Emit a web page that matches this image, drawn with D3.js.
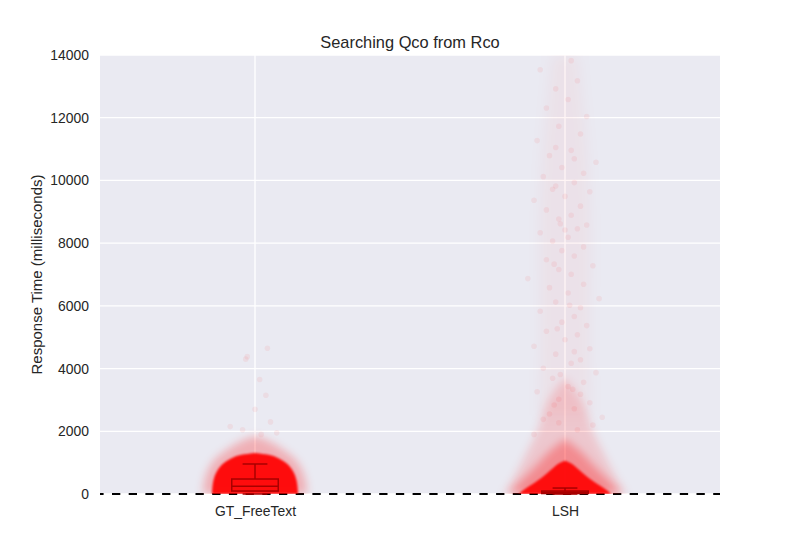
<!DOCTYPE html>
<html lang='en'>
<head>
<meta charset='utf8'>
<title>Searching Qco from Rco</title>
<script src="https://cdn.jsdelivr.net/npm/d3@7"></script>
<style>
    body { margin: 0; background: #fff; }
    text { font-family: "Liberation Sans", Arial, sans-serif; fill: #262626; }
</style>
</head>
<body>
<svg id='chart' width='800' height='550'></svg>
<script>
var categories = ['GT_FreeText', 'LSH'];
var yTicks = [0, 2000, 4000, 6000, 8000, 10000, 12000, 14000];

// dense core of the jittered points: response time (ms) and relative spread
var gtCoreMs = [0, 450, 750, 1000, 1200, 1250, 1310];
var gtCoreSpread = [1, 0.977, 0.884, 0.744, 0.465, 0.349, 0];
var gtHaloMs = [0, 400, 800, 1100, 1300, 1500, 1700, 1850];
var gtHaloSpread = [1.21, 1.19, 1.09, 0.95, 0.77, 0.56, 0.33, 0];

var lshCoreMs = [0, 130, 345, 670, 990, 1060];
var lshCoreSpread = [1.07, 0.98, 0.70, 0.40, 0.16, 0];
var lshInnerMs = [0, 250, 600, 1000, 1400, 1750];
var lshInnerSpread = [1.3, 1.15, 0.9, 0.6, 0.35, 0];
var lshHaloMs = [0, 300, 765, 1400, 2000, 2400, 3100, 3700];
var lshHaloSpread = [1.44, 1.28, 1.09, 0.86, 0.63, 0.56, 0.37, 0];
var lshTailMs = [2500, 5000, 8000, 10500, 12500, 14000];
var lshTailSpread = [0.6, 0.55, 0.6, 0.55, 0.4, 0.3];

// sparse single points: [ms, jitter as share of category step]
var gtOutliers = [[1900, 0.02], [2050, -0.04], [2300, 0.05], [2700, 0.0], [3150, 0.035], [3650, 0.015],
    [4300, -0.03], [4380, -0.025], [4650, 0.04], [1950, 0.07], [2150, -0.08]];
var lshOutliers = [[2550, -0.05], [2720, 0.03], [2910, 0.08], [3020, -0.02], [3180, 0.05], [3260, -0.09],
    [3430, 0.01], [3560, 0.06], [3690, -0.04], [3870, 0.1], [4010, -0.07], [4170, 0.02], [4280, 0.05],
    [4460, -0.03], [4630, 0.08], [4710, -0.1], [4920, 0.0], [5080, 0.04], [5190, -0.06], [5370, 0.07],
    [5480, -0.01], [5660, 0.03], [5830, -0.08], [5940, 0.05], [6120, -0.03], [6230, 0.11], [6410, 0.01],
    [6580, -0.05], [6690, 0.06], [6870, -0.12], [7010, 0.02], [7160, -0.02], [7280, 0.09], [7470, -0.06],
    [7590, 0.03], [7760, -0.01], [7880, 0.06], [8070, -0.04], [8190, 0.01], [8330, -0.08], [8460, 0.04],
    [8580, 0.07], [8620, -0.015], [8770, -0.02], [8890, 0.02], [9060, -0.06], [9180, 0.05], [9370, -0.1],
    [9490, 0.0], [9640, 0.08], [9820, -0.03], [9930, 0.03], [10120, -0.07], [10230, 0.06], [10410, -0.01],
    [10580, 0.1], [10790, -0.05], [10960, 0.02], [11270, -0.09], [11480, 0.05], [11730, -0.02],
    [12040, 0.07], [12310, -0.06], [12580, 0.01], [12920, -0.03], [13180, 0.04], [13530, -0.08],
    [13820, 0.02], [9720, -0.04], [8420, 0.0], [7330, -0.035], [6020, 0.015], [5270, -0.025],
    [4540, 0.03], [3810, -0.015], [3340, 0.025], [2840, -0.035], [10690, 0.03], [11050, -0.03],
    [2200, 0.09], [2380, -0.07], [2050, 0.04], [1900, -0.1], [2450, 0.12], [2270, -0.02]];

// boxplot summary (ms)
var boxQ1 = [95, 15];
var boxMedian = [250, 55];
var boxQ3 = [478, 95];
var whiskerLow = [0, 0];
var whiskerHigh = [957, 190];

var svg = d3.select('#chart');
var margin = {left: 100, right: 80, top: 55, bottom: 56};
var width = 800 - margin.left - margin.right;
var height = 550 - margin.top - margin.bottom;

var defs = svg.append('defs');
var addBlur = function(id, dev) {
    defs.append('filter').attr('id', id)
        .attr('x', '-50%').attr('y', '-50%').attr('width', '200%').attr('height', '200%')
        .append('feGaussianBlur').attr('stdDeviation', dev);
};
addBlur('soft', 1.2);
addBlur('haze', 4);
addBlur('mist', 7);

var g = svg.append('g').attr('transform', 'translate(' + margin.left + ',' + margin.top + ')');

var x = d3.scalePoint().domain(categories).range([0, width]).padding(0.5);
var step = x.step();
var y = d3.scaleLinear().domain([0, 14000]).range([height, 0]);
var spread = d3.scaleLinear().domain([0, 1]).range([0, step * 0.139]);

g.append('rect').attr('width', width).attr('height', height).attr('fill', '#eaeaf2');

g.selectAll('.hgrid').data(yTicks).enter().append('line')
    .attr('x1', 0).attr('x2', width)
    .attr('y1', d => y(d)).attr('y2', d => y(d))
    .attr('stroke', '#fff').attr('stroke-width', 1.3);
g.selectAll('.vgrid').data(categories).enter().append('line')
    .attr('x1', d => x(d)).attr('x2', d => x(d))
    .attr('y1', 0).attr('y2', height)
    .attr('stroke', '#fff').attr('stroke-width', 1.3);

g.append('line')
    .attr('x1', 0).attr('x2', width).attr('y1', y(0)).attr('y2', y(0))
    .attr('stroke', '#000').attr('stroke-width', 2)
    .attr('stroke-dasharray', '8.3,8.4').attr('stroke-dashoffset', 4.7);

var clip = g.append('clipPath').attr('id', 'plot-clip');
clip.append('rect').attr('width', width).attr('height', height);
var pts = g.append('g').attr('clip-path', 'url(#plot-clip)');

var cloud = function(cat, ms, sp, opacity, filter) {
    var rows = ms.map((m, i) => [m, sp[i]]);
    var area = d3.area()
        .curve(d3.curveBasis)
        .y(d => y(d[0]))
        .x0(d => x(cat) - spread(d[1]))
        .x1(d => x(cat) + spread(d[1]));
    pts.append('path').datum(rows)
        .attr('d', area)
        .attr('fill', '#ff0000')
        .attr('fill-opacity', opacity)
        .attr('filter', 'url(#' + filter + ')');
};

cloud('LSH', lshTailMs, lshTailSpread, 0.04, 'mist');
cloud('GT_FreeText', gtHaloMs, gtHaloSpread, 0.25, 'haze');
cloud('LSH', lshHaloMs, lshHaloSpread, 0.15, 'haze');
cloud('LSH', lshInnerMs, lshInnerSpread, 0.3, 'haze');
cloud('GT_FreeText', gtCoreMs, gtCoreSpread, 0.93, 'soft');
cloud('LSH', lshCoreMs, lshCoreSpread, 0.9, 'soft');

var dots = function(cat, list) {
    pts.selectAll(null).data(list).enter().append('circle')
        .attr('cx', d => x(cat) + d[1] * step)
        .attr('cy', d => y(d[0]))
        .attr('r', 2.8)
        .attr('fill', '#ff0000')
        .attr('fill-opacity', 0.06);
};
dots('GT_FreeText', gtOutliers);
dots('LSH', lshOutliers);

var boxW = step * 0.15;
var capW = step * 0.08;
var boxColor = '#a80000';
categories.forEach(function(cat, i) {
    var cx = x(cat);
    var bg = g.append('g').attr('stroke', boxColor).attr('stroke-width', 1.5).attr('fill', 'none');
    bg.append('line').attr('x1', cx).attr('x2', cx).attr('y1', y(boxQ3[i])).attr('y2', y(whiskerHigh[i]));
    bg.append('line').attr('x1', cx - capW / 2).attr('x2', cx + capW / 2)
        .attr('y1', y(whiskerHigh[i])).attr('y2', y(whiskerHigh[i]));
    bg.append('rect').attr('x', cx - boxW / 2).attr('width', boxW)
        .attr('y', y(boxQ3[i])).attr('height', Math.max(1, y(boxQ1[i]) - y(boxQ3[i])));
    bg.append('line').attr('x1', cx - boxW / 2).attr('x2', cx + boxW / 2)
        .attr('y1', y(boxMedian[i])).attr('y2', y(boxMedian[i]));
    bg.append('line').attr('x1', cx - capW / 2).attr('x2', cx + capW / 2)
        .attr('y1', y(whiskerLow[i])).attr('y2', y(whiskerLow[i]));
});

// axes
var yAxis = g.append('g').call(d3.axisLeft(y).tickValues(yTicks).tickSize(0).tickPadding(11).tickFormat(d3.format('d')));
yAxis.select('.domain').remove();
yAxis.selectAll('text').style('font-size', '13.9px').attr('fill', '#262626');

var xAxis = g.append('g').attr('transform', 'translate(0,' + height + ')')
    .call(d3.axisBottom(x).tickSize(0).tickPadding(12));
xAxis.select('.domain').remove();
xAxis.selectAll('text').style('font-size', '13.9px').attr('fill', '#262626');

svg.append('text')
    .attr('x', margin.left + width / 2).attr('y', 48)
    .attr('text-anchor', 'middle')
    .style('font-size', '16.4px')
    .text('Searching Qco from Rco');

svg.append('text')
    .attr('transform', 'translate(42,' + (margin.top + height / 2) + ') rotate(-90)')
    .attr('text-anchor', 'middle')
    .style('font-size', '15px')
    .text('Response Time (milliseconds)');
</script>
</body>
</html>
